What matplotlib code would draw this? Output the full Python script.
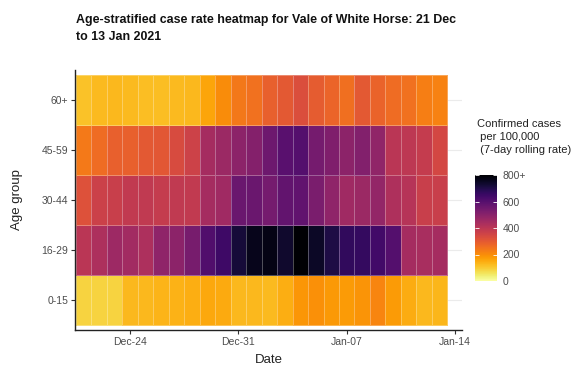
import matplotlib
matplotlib.use("Agg")
import matplotlib.pyplot as plt
import matplotlib.dates as mdates
import numpy as np
import datetime as dt

plt.rcParams['font.family'] = ['Liberation Sans', 'DejaVu Sans']

age_groups = ["0-15", "16-29", "30-44", "45-59", "60+"]
start_date = dt.date(2020, 12, 21)
n_days = 24
dates = [start_date + dt.timedelta(days=i) for i in range(n_days)]

rate_0_15 = [85, 85, 85, 130, 130, 135, 140, 145, 155, 150, 130, 130, 128, 145,
             185, 195, 180, 175, 190, 215, 178, 148, 130, 132]
rate_16_29 = [400, 430, 460, 450, 430, 490, 495, 535, 610, 645, 720, 760, 770, 735,
              800, 745, 705, 670, 665, 640, 605, 445, 440, 445]
rate_30_44 = [320, 365, 370, 385, 390, 380, 390, 385, 445, 455, 560, 560, 540, 575,
              580, 530, 490, 455, 465, 480, 425, 410, 370, 370]
rate_45_59 = [235, 262, 285, 285, 300, 305, 335, 360, 445, 465, 495, 510, 555, 595,
              605, 540, 520, 495, 515, 485, 400, 395, 380, 345]
rate_60p = [115, 125, 130, 125, 120, 120, 125, 130, 160, 200, 240, 250, 285, 300,
            325, 295, 275, 255, 300, 280, 262, 250, 225, 220]

x_ticks = [dt.date(2020, 12, 24), dt.date(2020, 12, 31), dt.date(2021, 1, 7), dt.date(2021, 1, 14)]
x_ticklabels = ["Dec-24", "Dec-31", "Jan-07", "Jan-14"]
cbar_ticks = [0, 200, 400, 600, 800]
cbar_ticklabels = ["0", "200", "400", "600", "800+"]

Z = np.array([rate_0_15, rate_16_29, rate_30_44, rate_45_59, rate_60p], dtype=float)

W, H = 581, 372
fig = plt.figure(figsize=(W / 100, H / 100), dpi=100)
ax = fig.add_axes([75 / W, (H - 330) / H, 387 / W, 260 / H])

xnum = mdates.date2num(dates)
xedges = np.concatenate([xnum - 0.5, [xnum[-1] + 0.5]])
yedges = np.arange(len(age_groups) + 1) - 0.5

# horizontal grid lines (behind tiles)
for i in range(len(age_groups)):
    ax.axhline(i, color="#ebebeb", lw=0.8, zorder=0)

mesh = ax.pcolormesh(xedges, yedges, Z, cmap="inferno_r", vmin=0, vmax=800,
                     edgecolors=(1, 1, 1, 0.3), linewidth=0.5, zorder=1)

ax.set_xlim(xnum[0] - 0.56, mdates.date2num(dt.date(2021, 1, 14)) + 0.45)
ax.set_ylim(-0.6, len(age_groups) - 0.4)
ax.set_yticks(range(len(age_groups)))
ax.set_yticklabels(age_groups)
ax.set_xticks(mdates.date2num(x_ticks))
ax.set_xticklabels(x_ticklabels)

for s in ["top", "right"]:
    ax.spines[s].set_visible(False)
for s in ["left", "bottom"]:
    ax.spines[s].set_color("#222222")
    ax.spines[s].set_linewidth(1.0)
ax.tick_params(axis="both", length=3, width=0.8, color="#333333", labelsize=7.5,
               labelcolor="#4d4d4d", pad=2)
ax.set_xlabel("Date", fontsize=9.5, color="#222222", labelpad=5)
ax.set_ylabel("Age group", fontsize=9.5, color="#222222", labelpad=13)

fig.text(76 / W, 1 - 14 / H, "Age-stratified case rate heatmap for Vale of White Horse: 21 Dec\nto 13 Jan 2021",
         fontsize=8.9, fontweight="bold", va="top", ha="left", color="#111111", linespacing=1.5)

cax = fig.add_axes([475 / W, (H - 281) / H, 22 / W, 106 / H])
cb = fig.colorbar(mesh, cax=cax, ticks=cbar_ticks)
cb.outline.set_visible(False)
cb.ax.set_yticklabels(cbar_ticklabels)
cb.ax.tick_params(direction="in", color="white", length=3, width=0.6, labelsize=7.5,
                  labelcolor="#4d4d4d", pad=4, left=True, right=True)
fig.text(477 / W, 1 - 119 / H, "Confirmed cases\n per 100,000\n (7-day rolling rate)",
         fontsize=8, va="top", ha="left", color="#222222", linespacing=1.35)

fig.savefig("out.png", dpi=100, facecolor="white")
